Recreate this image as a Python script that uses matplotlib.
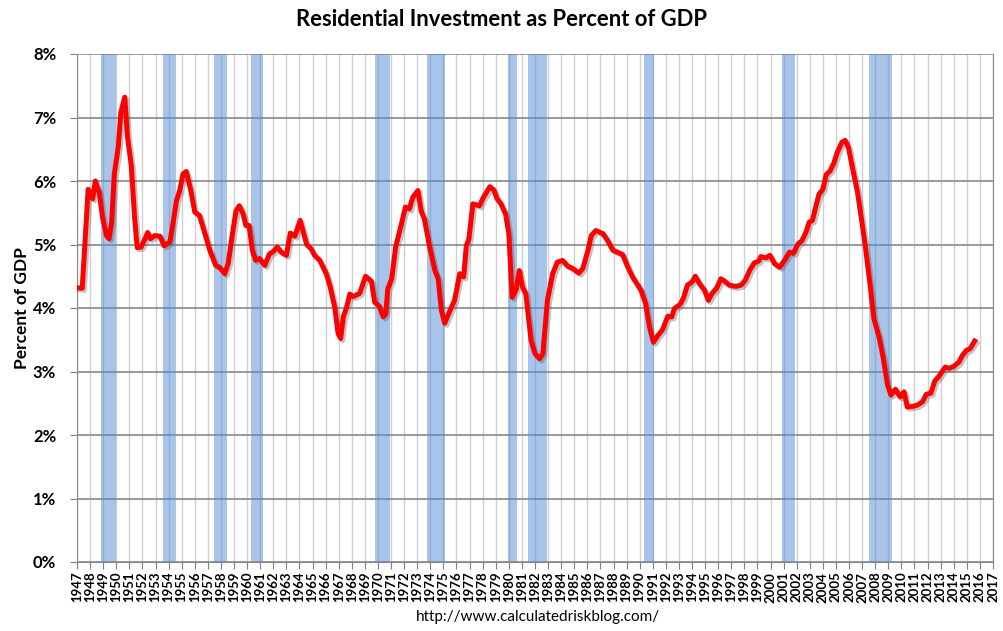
import numpy as np
import matplotlib
matplotlib.use("Agg")
from matplotlib import pyplot as plt
import matplotlib.patheffects as pe

# values (fractional year, percent of GDP)
years = [1947.0, 1947.4, 1947.85, 1948.2, 1948.4, 1948.7, 1948.95, 1949.25, 1949.45, 1949.65,
         1949.85, 1950.15, 1950.35, 1950.65, 1950.85, 1951.15, 1951.4, 1951.6, 1951.9, 1952.2,
         1952.4, 1952.6, 1952.95, 1953.35, 1953.65, 1954.1, 1954.35, 1954.6, 1954.85, 1955.1,
         1955.35, 1955.7, 1956.0, 1956.35, 1956.75, 1957.15, 1957.6, 1957.9, 1958.3, 1958.55,
         1958.8, 1959.15, 1959.4, 1959.7, 1959.9, 1960.15, 1960.4, 1960.65, 1960.95, 1961.35,
         1961.7, 1962.0, 1962.3, 1962.6, 1963.0, 1963.3, 1963.65, 1964.05, 1964.55, 1964.9,
         1965.15, 1965.55, 1966.05, 1966.35, 1966.7, 1966.95, 1967.15, 1967.35, 1967.6, 1967.85,
         1968.1, 1968.6, 1969.05, 1969.5, 1969.75, 1970.1, 1970.4, 1970.6, 1970.75, 1971.05,
         1971.35, 1971.8, 1972.1, 1972.4, 1972.65, 1973.05, 1973.3, 1973.55, 1973.95, 1974.35,
         1974.6, 1974.85, 1975.1, 1975.5, 1975.85, 1976.25, 1976.55, 1976.75, 1976.95, 1977.25,
         1977.75, 1978.05, 1978.55, 1978.85, 1979.1, 1979.4, 1979.75, 1980.0, 1980.25, 1980.55,
         1980.8, 1981.05, 1981.3, 1981.7, 1982.0, 1982.35, 1982.6, 1982.95, 1983.35, 1983.7,
         1984.1, 1984.5, 1984.9, 1985.35, 1985.65, 1986.05, 1986.3, 1986.65, 1987.2, 1987.55,
         1987.95, 1988.3, 1988.7, 1989.1, 1989.45, 1989.85, 1990.1, 1990.45, 1990.75, 1991.05,
         1991.4, 1991.75, 1992.15, 1992.45, 1992.65, 1993.1, 1993.35, 1993.65, 1994.0, 1994.25,
         1994.55, 1994.95, 1995.25, 1995.5, 1995.9, 1996.2, 1996.45, 1996.85, 1997.35, 1997.75,
         1998.05, 1998.4, 1998.75, 1999.1, 1999.25, 1999.65, 1999.95, 2000.3, 2000.7, 2001.1,
         2001.45, 2001.75, 2002.1, 2002.4, 2002.7, 2002.95, 2003.2, 2003.45, 2003.7, 2004.0,
         2004.25, 2004.55, 2004.85, 2005.1, 2005.45, 2005.7, 2005.95, 2006.25, 2006.65, 2006.95,
         2007.25, 2007.6, 2007.9, 2008.3, 2008.6, 2008.95, 2009.2, 2009.55, 2009.9, 2010.2,
         2010.45, 2010.85, 2011.2, 2011.6, 2011.9, 2012.25, 2012.55, 2012.85, 2013.35, 2013.65,
         2014.0, 2014.4, 2014.65, 2014.95, 2015.25, 2015.6]
resi_pct = [4.32, 4.31, 5.87, 5.72, 6.00, 5.82, 5.43, 5.14, 5.09, 5.35,
            6.11, 6.53, 7.08, 7.32, 6.71, 6.24, 5.43, 4.95, 4.96, 5.09,
            5.19, 5.09, 5.14, 5.13, 4.98, 5.04, 5.35, 5.69, 5.85, 6.11,
            6.15, 5.85, 5.51, 5.46, 5.19, 4.91, 4.67, 4.64, 4.54, 4.70,
            5.06, 5.53, 5.61, 5.48, 5.30, 5.30, 4.91, 4.75, 4.78, 4.67,
            4.85, 4.89, 4.96, 4.88, 4.83, 5.18, 5.13, 5.38, 5.00, 4.93,
            4.83, 4.75, 4.54, 4.33, 4.01, 3.60, 3.52, 3.86, 4.01, 4.22,
            4.18, 4.23, 4.50, 4.42, 4.09, 4.03, 3.86, 3.91, 4.30, 4.46,
            4.96, 5.33, 5.59, 5.56, 5.74, 5.85, 5.53, 5.40, 4.96, 4.59,
            4.46, 3.96, 3.76, 3.96, 4.12, 4.54, 4.49, 4.98, 5.09, 5.64,
            5.61, 5.74, 5.91, 5.86, 5.72, 5.64, 5.48, 5.17, 4.17, 4.28,
            4.59, 4.33, 4.22, 3.49, 3.28, 3.20, 3.28, 4.12, 4.54, 4.72,
            4.75, 4.66, 4.62, 4.55, 4.62, 4.91, 5.14, 5.22, 5.17, 5.06,
            4.91, 4.88, 4.84, 4.64, 4.49, 4.36, 4.28, 4.07, 3.70, 3.46,
            3.57, 3.66, 3.87, 3.86, 3.99, 4.06, 4.16, 4.36, 4.41, 4.50,
            4.39, 4.28, 4.12, 4.22, 4.32, 4.46, 4.43, 4.36, 4.34, 4.36,
            4.43, 4.59, 4.71, 4.74, 4.81, 4.79, 4.83, 4.70, 4.64, 4.76,
            4.88, 4.86, 5.01, 5.06, 5.19, 5.35, 5.38, 5.59, 5.79, 5.87,
            6.10, 6.16, 6.29, 6.45, 6.61, 6.64, 6.53, 6.22, 5.82, 5.40,
            4.96, 4.38, 3.83, 3.54, 3.23, 2.78, 2.63, 2.72, 2.60, 2.68,
            2.44, 2.45, 2.47, 2.52, 2.64, 2.66, 2.85, 2.92, 3.07, 3.05,
            3.08, 3.15, 3.25, 3.33, 3.36, 3.48]

rec_start = [1948.83, 1953.6, 1957.5, 1960.3, 1969.75, 1973.75, 1979.9, 1981.45, 1990.35, 2000.85, 2007.55]
rec_end = [1950.0, 1954.55, 1958.5, 1961.25, 1970.95, 1975.15, 1980.65, 1982.9, 1991.1, 2001.85, 2009.25]

tick_years = list(range(1947, 2018))
y_ticks = [0, 1, 2, 3, 4, 5, 6, 7, 8]

plt.rcParams['font.family'] = ['Lato', 'DejaVu Sans']

fig = plt.figure(figsize=(10.04, 6.31), dpi=100)
ax = fig.add_axes([77 / 1004, 1 - 562 / 631, (993 - 77) / 1004, (562 - 54) / 631])

for s, e in zip(rec_start, rec_end):
    ax.axvspan(s, e, color='#538DD5', alpha=0.5, lw=0, zorder=2)

ax.plot(years, resi_pct, color='#ff0000', lw=3.6, zorder=3, solid_joinstyle='round',
        path_effects=[pe.SimpleLineShadow(offset=(1.5, -1.5), shadow_color='#555555', alpha=0.35),
                      pe.Normal()])

ax.set_xlim(1947, 2017)
ax.set_ylim(0, 8)
ax.set_xticks(tick_years)
ax.set_xticklabels([str(y) for y in tick_years], rotation=90, fontsize=9.5, fontweight='bold')
ax.set_yticks(y_ticks)
ax.set_yticklabels(['%d%%' % v for v in y_ticks], fontsize=12, fontweight='bold')
ax.tick_params(axis='x', length=5, color='#808080', pad=2)
ax.tick_params(axis='y', length=5, color='#808080', pad=10)

ax.grid(axis='x', color='#d0d0d0', lw=1, zorder=0)
ax.grid(axis='y', color='#888888', lw=1.2, zorder=1)
ax.set_axisbelow(True)
for side in ['left', 'right', 'bottom']:
    ax.spines[side].set_color('#888888')
ax.spines['top'].set_visible(False)

ax.set_ylabel('Percent of GDP', fontsize=12.5, fontweight='bold', labelpad=2)

fig.text(0.5, 1 - 20 / 631, 'Residential Investment as Percent of GDP', ha='center', va='center',
         fontsize=15.8, fontweight='bold')
fig.text(538 / 1004, 1 - 617 / 631, 'http://www.calculatedriskblog.com/', ha='center', va='center',
         fontsize=11)

fig.savefig('out.png', dpi=100)
